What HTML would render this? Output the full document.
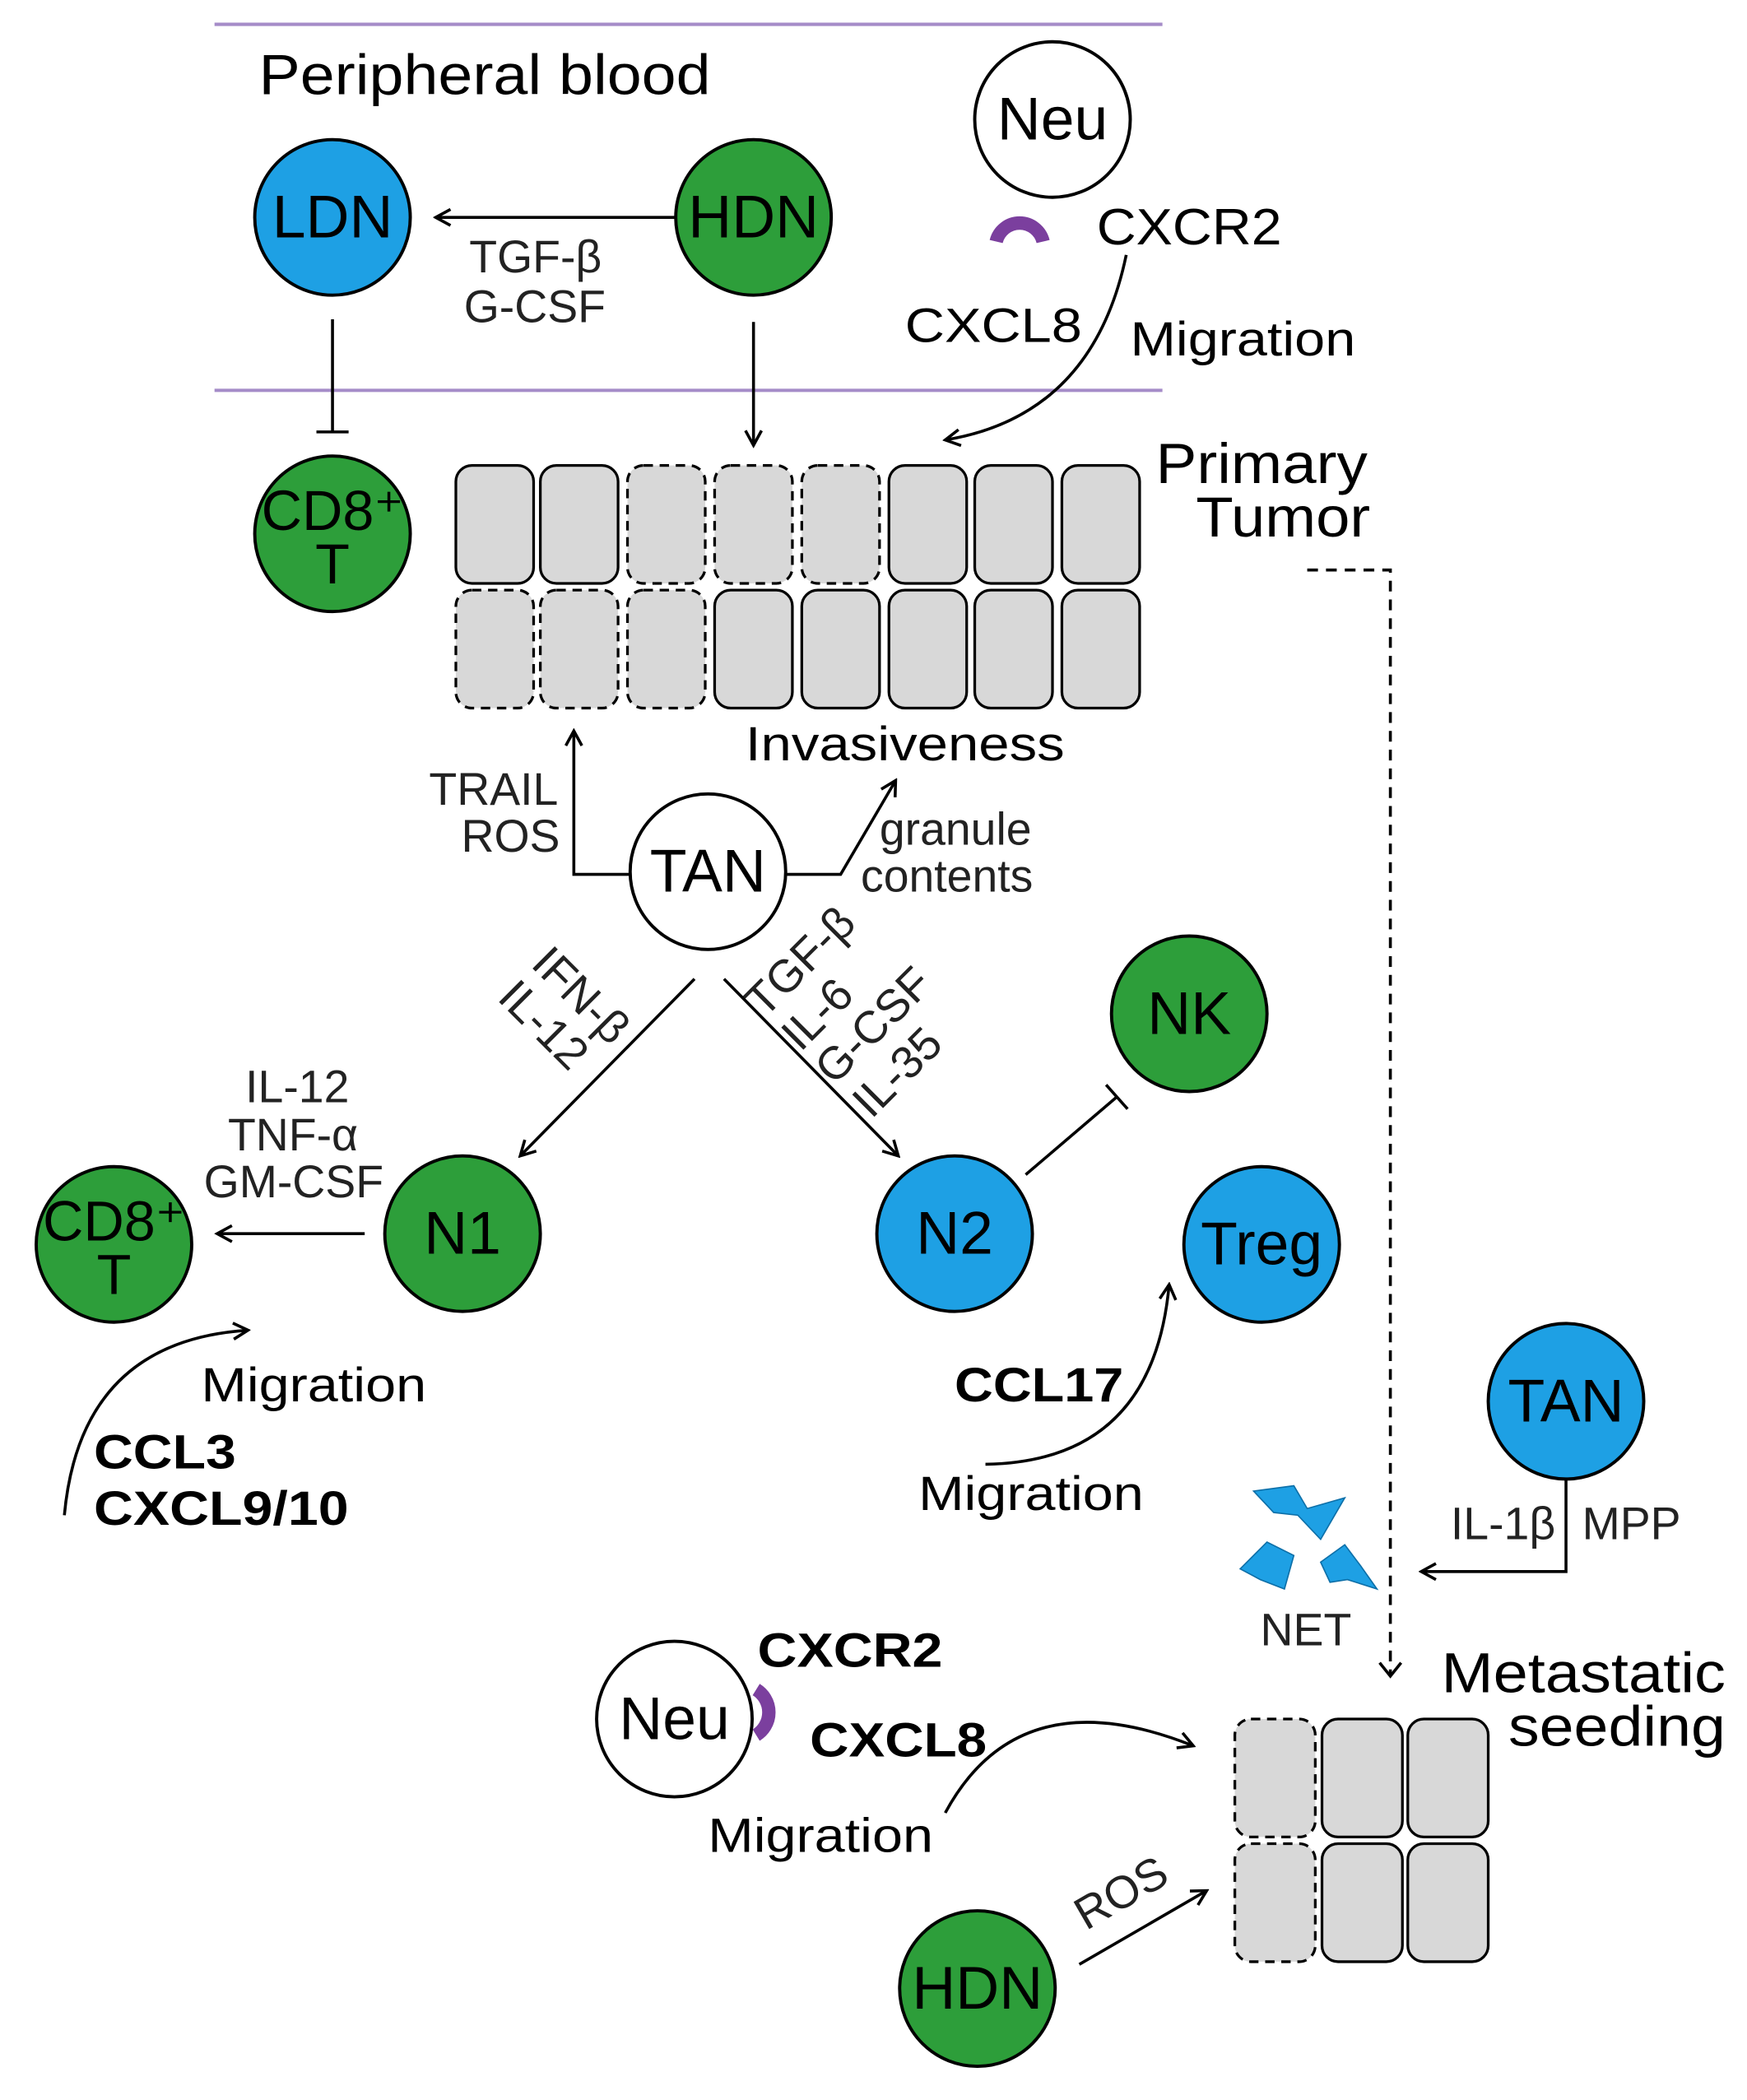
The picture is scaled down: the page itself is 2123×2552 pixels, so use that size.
<!DOCTYPE html>
<html><head><meta charset="utf-8"><style>html,body{margin:0;padding:0;background:#fff}svg{display:block}</style></head><body>
<svg width="2123" height="2552" viewBox="0 0 1303 1566" xmlns="http://www.w3.org/2000/svg" font-family="Liberation Sans, sans-serif">
<defs>
<marker id="a" markerWidth="14" markerHeight="14" refX="12" refY="7" orient="auto" markerUnits="userSpaceOnUse"><path d="M1,1 L12,7 L1,13" fill="none" stroke="#000" stroke-width="2.2"/></marker>
</defs>
<g stroke="#a58cc8" stroke-width="2.5"><line x1="160" y1="18" x2="867" y2="18"/><line x1="160" y1="291" x2="867" y2="291"/></g>
<text x="193" y="70" font-size="42" textLength="337" lengthAdjust="spacingAndGlyphs">Peripheral blood</text>
<g stroke="#000" stroke-width="2.4">
<circle cx="785" cy="89" r="58" fill="#fff"/>
<circle cx="248" cy="162" r="58" fill="#1ea0e4"/>
<circle cx="562" cy="162" r="58" fill="#2d9e3a"/>
<circle cx="248" cy="398" r="58" fill="#2d9e3a"/>
<circle cx="528" cy="650" r="58" fill="#fff"/>
<circle cx="887" cy="756" r="58" fill="#2d9e3a"/>
<circle cx="712" cy="920" r="58" fill="#1ea0e4"/>
<circle cx="941" cy="928" r="58" fill="#1ea0e4"/>
<circle cx="345" cy="920" r="58" fill="#2d9e3a"/>
<circle cx="85" cy="928" r="58" fill="#2d9e3a"/>
<circle cx="1168" cy="1045" r="58" fill="#1ea0e4"/>
<circle cx="503" cy="1282" r="58" fill="#fff"/>
<circle cx="729" cy="1483" r="58" fill="#2d9e3a"/>
</g>
<g font-size="45" text-anchor="middle">
<text x="785" y="104">Neu</text><text x="248" y="177">LDN</text><text x="562" y="177">HDN</text>
<text x="248" y="395" font-size="42">CD8⁺</text><text x="248" y="435" font-size="42">T</text>
<text x="528" y="665">TAN</text><text x="887" y="771">NK</text><text x="712" y="935">N2</text>
<text x="941" y="943">Treg</text><text x="345" y="935">N1</text>
<text x="85" y="925" font-size="42">CD8⁺</text><text x="85" y="965" font-size="42">T</text>
<text x="1168" y="1060">TAN</text><text x="503" y="1297">Neu</text><text x="729" y="1498">HDN</text>
</g>
<g fill="none" stroke="#7b3f9e" stroke-width="10"><path d="M743,180 A18,18 0 0 1 778,180"/><path d="M564,1260 A20,20 0 0 1 564,1294"/></g>
<text x="818" y="182" font-size="38" textLength="138" lengthAdjust="spacingAndGlyphs">CXCR2</text>
<text x="675" y="255" font-size="36" textLength="132" lengthAdjust="spacingAndGlyphs">CXCL8</text>
<text x="843" y="265" font-size="36" textLength="168" lengthAdjust="spacingAndGlyphs">Migration</text>
<g fill="none" stroke="#000" stroke-width="2.2">
<path d="M840,190 Q815,310 705,328" marker-end="url(#a)"/>
<line x1="505" y1="162" x2="325" y2="162" marker-end="url(#a)"/>
<line x1="248" y1="238" x2="248" y2="322"/><line x1="236" y1="322" x2="260" y2="322"/>
<line x1="562" y1="240" x2="562" y2="332" marker-end="url(#a)"/>
<path d="M975,425 H1037 V1250" stroke-dasharray="8,6"/>
<path d="M1029,1240 L1037,1250 L1045,1240"/>
<path d="M470,652 H428 V545" marker-end="url(#a)"/>
<path d="M586,652 H627 L668,582" marker-end="url(#a)"/>
<line x1="518" y1="730" x2="388" y2="862" marker-end="url(#a)"/>
<line x1="540" y1="730" x2="670" y2="862" marker-end="url(#a)"/>
<line x1="765" y1="876" x2="833" y2="818"/><line x1="825" y1="809" x2="841" y2="827"/>
<line x1="272" y1="920" x2="162" y2="920" marker-end="url(#a)"/>
<path d="M48,1130 Q60,1000 185,992" marker-end="url(#a)"/>
<path d="M735,1092 Q860,1090 872,958" marker-end="url(#a)"/>
<path d="M1168,1103 V1172 H1060" marker-end="url(#a)"/>
<path d="M705,1352 Q760,1250 890,1302" marker-end="url(#a)"/>
<line x1="805" y1="1465" x2="900" y2="1410" marker-end="url(#a)"/>
</g>
<g fill="#d8d8d8" stroke="#000" stroke-width="2">
<rect x="340" y="347" width="58" height="88" rx="12"/><rect x="403" y="347" width="58" height="88" rx="12"/>
<rect x="468" y="347" width="58" height="88" rx="12" stroke-dasharray="7,5"/><rect x="533" y="347" width="58" height="88" rx="12" stroke-dasharray="7,5"/><rect x="598" y="347" width="58" height="88" rx="12" stroke-dasharray="7,5"/>
<rect x="663" y="347" width="58" height="88" rx="12"/><rect x="727" y="347" width="58" height="88" rx="12"/><rect x="792" y="347" width="58" height="88" rx="12"/>
<rect x="340" y="440" width="58" height="88" rx="12" stroke-dasharray="7,5"/><rect x="403" y="440" width="58" height="88" rx="12" stroke-dasharray="7,5"/><rect x="468" y="440" width="58" height="88" rx="12" stroke-dasharray="7,5"/>
<rect x="533" y="440" width="58" height="88" rx="12"/><rect x="598" y="440" width="58" height="88" rx="12"/><rect x="663" y="440" width="58" height="88" rx="12"/><rect x="727" y="440" width="58" height="88" rx="12"/><rect x="792" y="440" width="58" height="88" rx="12"/>
<rect x="921" y="1282" width="60" height="88" rx="12" stroke-dasharray="7,5"/><rect x="986" y="1282" width="60" height="88" rx="12"/><rect x="1050" y="1282" width="60" height="88" rx="12"/>
<rect x="921" y="1375" width="60" height="88" rx="12" stroke-dasharray="7,5"/><rect x="986" y="1375" width="60" height="88" rx="12"/><rect x="1050" y="1375" width="60" height="88" rx="12"/>
</g>
<g font-size="34" fill="#222">
<text x="350" y="203">TGF-β</text><text x="346" y="240">G-CSF</text>
<text x="320" y="600">TRAIL</text><text x="344" y="635">ROS</text>
<text x="656" y="630">granule</text><text x="642" y="665">contents</text>
<text x="183" y="822">IL-12</text><text x="170" y="858">TNF-α</text><text x="152" y="893">GM-CSF</text>
<text x="1082" y="1148">IL-1β</text><text x="1180" y="1148">MPP</text>
<text x="940" y="1227">NET</text>
<text transform="translate(395,720) rotate(45)">IFN-β</text>
<text transform="translate(370,745) rotate(45)">IL-12</text>
<text transform="translate(570,760) rotate(-45)">TGF-β</text>
<text transform="translate(597,785) rotate(-45)">IL-6</text>
<text transform="translate(622,810) rotate(-45)">G-CSF</text>
<text transform="translate(650,835) rotate(-45)">IL-35</text>
<text transform="translate(810,1440) rotate(-30)">ROS</text>
</g>
<g font-size="42"><text x="862" y="360" textLength="158" lengthAdjust="spacingAndGlyphs">Primary</text><text x="892" y="400" textLength="130" lengthAdjust="spacingAndGlyphs">Tumor</text>
<text x="1075" y="1262" textLength="212" lengthAdjust="spacingAndGlyphs">Metastatic</text><text x="1125" y="1302" textLength="162" lengthAdjust="spacingAndGlyphs">seeding</text></g>
<g font-size="36"><text x="556" y="567" textLength="238" lengthAdjust="spacingAndGlyphs">Invasiveness</text><text x="150" y="1045" textLength="168" lengthAdjust="spacingAndGlyphs">Migration</text><text x="685" y="1126" textLength="168" lengthAdjust="spacingAndGlyphs">Migration</text><text x="528" y="1381" textLength="168" lengthAdjust="spacingAndGlyphs">Migration</text></g>
<g font-size="36" font-weight="bold"><text x="70" y="1095" textLength="106" lengthAdjust="spacingAndGlyphs">CCL3</text><text x="70" y="1137" textLength="190" lengthAdjust="spacingAndGlyphs">CXCL9/10</text><text x="712" y="1045" textLength="126" lengthAdjust="spacingAndGlyphs">CCL17</text>
<text x="565" y="1243" textLength="138" lengthAdjust="spacingAndGlyphs">CXCR2</text><text x="604" y="1310" textLength="132" lengthAdjust="spacingAndGlyphs">CXCL8</text></g>
<g fill="#1ea0e4" stroke="#0d6fa8" stroke-width="1">
<path d="M935,1112 L965,1108 L975,1125 L1003,1117 L985,1148 L968,1130 L950,1128 Z"/>
<path d="M925,1170 L945,1150 L965,1160 L958,1185 L940,1178 Z"/>
<path d="M985,1165 L1003,1152 L1015,1168 L1027,1185 L1005,1178 L992,1180 Z"/>
</g>
</svg>
</body></html>
